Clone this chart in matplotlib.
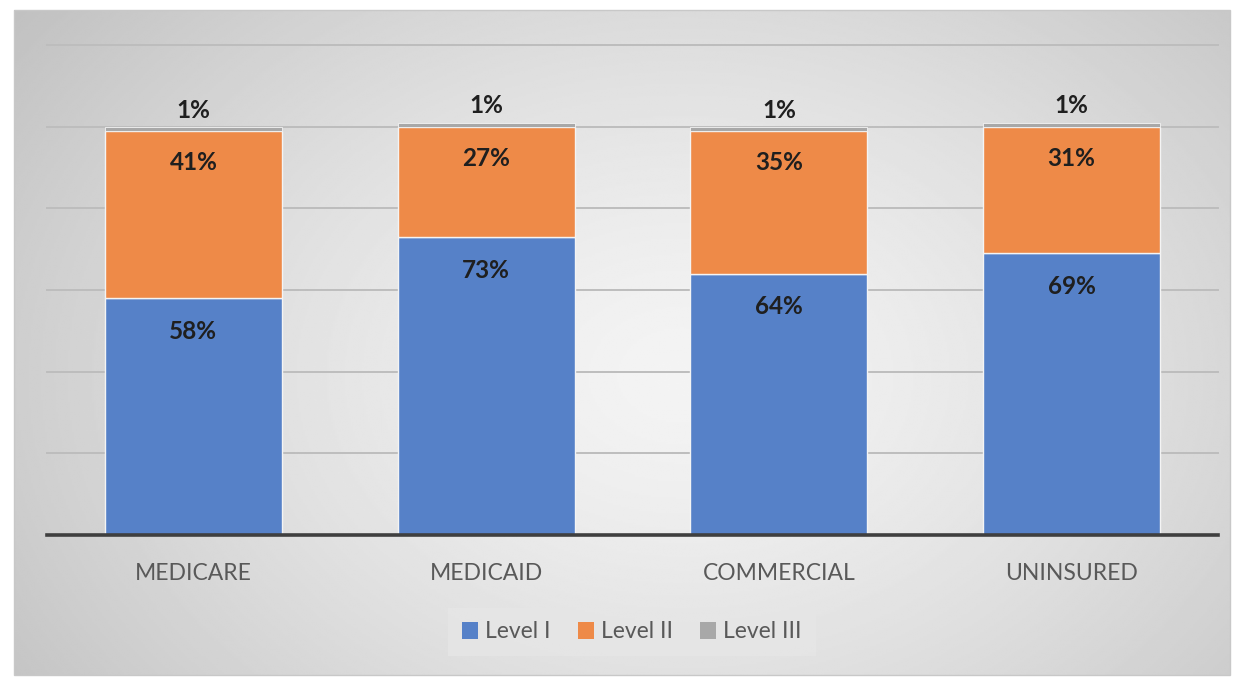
import numpy as np
import matplotlib
matplotlib.use("Agg")
import matplotlib.pyplot as plt
from matplotlib.patches import Rectangle

# Share of patients by trauma center level, per payer
categories = ["MEDICARE", "MEDICAID", "COMMERCIAL", "UNINSURED"]
level_1 = [58, 73, 64, 69]
level_2 = [41, 27, 35, 31]
level_3 = [1, 1, 1, 1]
series_names = ["Level I", "Level II", "Level III"]
y_ticks = [0, 20, 40, 60, 80, 100, 120]

colors = ["#5681C8", "#EE8A48", "#A8A8A8"]
text_gray = "#595959"

W, H = 1240, 677
fig = plt.figure(figsize=(W / 100, H / 100), dpi=100, facecolor="white")

# Radial gray backdrop inside the chart frame
bg = fig.add_axes([14 / W, 2 / H, 1216 / W, 665 / H], zorder=-2)
nx, ny = 600, 330
xx, yy = np.meshgrid(np.linspace(0, 1, nx), np.linspace(0, 1, ny))
cx, cy = 0.55, 0.55
d = np.sqrt(((xx - cx) * 1.0) ** 2 + ((yy - cy) * 0.75) ** 2)
d = d / d.max()
shade = 0.955 - 0.2 * d ** 1.4
bg.imshow(shade, cmap="gray", vmin=0, vmax=1, aspect="auto",
          extent=[0, 1, 0, 1], origin="upper", interpolation="bilinear")
bg.set_axis_off()
frame = Rectangle((14 / W, 2 / H), 1216 / W, 665 / H, transform=fig.transFigure,
                  fill=False, edgecolor="#c8c8c8", lw=1.0, zorder=-1)
fig.patches.append(frame)

# Plot area
ax_left, ax_right = 47 / W, 1218 / W
ax_bottom = (H - 535) / H
ax_top = (H - 45) / H
ax = fig.add_axes([ax_left, ax_bottom, ax_right - ax_left, ax_top - ax_bottom])
ax.patch.set_alpha(0)
ax.set_xlim(-0.5, 3.5)
ax.set_ylim(0, 120)
for s in ax.spines.values():
    s.set_visible(False)
ax.set_yticks([])
ax.tick_params(axis="x", length=0, pad=20)
x = np.arange(len(categories))
ax.set_xticks(x)
ax.set_xticklabels(categories, fontsize=16.5, color=text_gray, family="Lato")

for t in y_ticks[1:]:
    ax.axhline(t, color="#bdbdbd", lw=1.4, zorder=0, clip_on=False)

width = 0.605
b1 = ax.bar(x, level_1, width, color=colors[0], edgecolor="#f4f4f4", lw=1.0,
            label=series_names[0], zorder=2)
b2 = ax.bar(x, level_2, width, bottom=level_1, color=colors[1], edgecolor="#f4f4f4",
            lw=1.0, label=series_names[1], zorder=2)
bottom3 = np.array(level_1) + np.array(level_2)
b3 = ax.bar(x, level_3, width, bottom=bottom3, color=colors[2], edgecolor="#f4f4f4",
            lw=0.6, label=series_names[2], zorder=2)

ax.axhline(0, color="#3f3f3f", lw=2.6, zorder=3, clip_on=False)

lab_kw = dict(ha="center", va="center", fontsize=17.5, fontweight="bold",
              color="#1f1f1f", family="Lato", textcoords="offset points")
for i in range(len(categories)):
    ax.annotate(f"{level_1[i]}%", (x[i], level_1[i]), xytext=(0, -24), **lab_kw)
    ax.annotate(f"{level_2[i]}%", (x[i], bottom3[i]), xytext=(0, -23), **lab_kw)
    ax.annotate(f"{level_3[i]}%", (x[i], bottom3[i] + level_3[i]), xytext=(0, 12), **lab_kw)

leg = fig.legend(handles=[b1, b2, b3], labels=series_names, loc="center",
                 bbox_to_anchor=(632 / W, (H - 632) / H), ncol=3, frameon=True,
                 handlelength=0.7, handleheight=0.7, handletextpad=0.3,
                 columnspacing=1.2, borderpad=0.6, fancybox=False,
                 prop={"family": "Lato", "size": 16.5})
leg.get_frame().set_facecolor("#e6e6e6")
leg.get_frame().set_edgecolor("none")
leg.get_frame().set_alpha(0.8)
for t in leg.get_texts():
    t.set_color(text_gray)
for h in leg.legend_handles:
    h.set_edgecolor("none")

fig.savefig("out.png", dpi=100, facecolor="white")
